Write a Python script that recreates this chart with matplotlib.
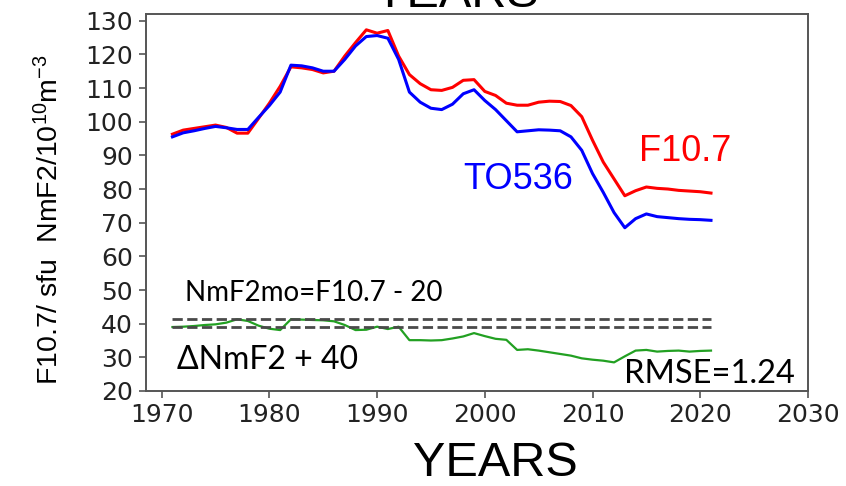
import matplotlib
matplotlib.use("Agg")
import matplotlib.pyplot as plt
import numpy as np

plt.rcParams["mathtext.fontset"] = "custom"
plt.rcParams["mathtext.rm"] = "Liberation Sans"
plt.rcParams["mathtext.it"] = "Liberation Sans:italic"

# yearly values, 1971-2021
years = np.arange(1971, 2022)

f107 = [96.3, 97.5, 98.0, 98.5, 99.0, 98.3, 96.6, 96.6, 101.0, 105.5,
        110.5, 116.3, 116.0, 115.5, 114.5, 115.0, 119.5, 123.5, 127.3, 126.3,
        127.1, 119.5, 114.0, 111.3, 109.5, 109.3, 110.2, 112.3, 112.5, 109.0,
        107.8, 105.5, 104.9, 104.9, 105.8, 106.1, 106.0, 104.8, 101.5, 94.5,
        88.0, 83.0, 78.0, 79.5, 80.6, 80.2, 80.0, 79.6, 79.4, 79.2,
        78.8]

to536 = [95.5, 96.7, 97.3, 98.0, 98.6, 98.2, 97.7, 97.7, 101.3, 104.8,
         108.8, 116.8, 116.6, 116.0, 115.0, 115.0, 118.5, 122.5, 125.3, 125.6,
         124.8, 118.5, 108.8, 105.8, 104.0, 103.6, 105.2, 108.3, 109.5, 106.3,
         103.6, 100.3, 97.0, 97.3, 97.6, 97.5, 97.3, 95.5, 91.5, 84.6,
         79.0, 73.0, 68.5, 71.2, 72.6, 71.8, 71.5, 71.2, 71.0, 70.9,
         70.7]

dnmf2 = [39.0, 39.1, 39.3, 39.6, 39.8, 40.3, 41.3, 40.8, 39.4, 38.5,
         38.1, 41.3, 41.2, 41.1, 41.0, 40.7, 39.6, 38.1, 38.2, 39.1,
         38.4, 39.1, 35.1, 35.1, 35.0, 35.1, 35.6, 36.2, 37.2, 36.3,
         35.5, 35.2, 32.2, 32.4, 32.0, 31.5, 31.0, 30.5, 29.7, 29.3,
         29.0, 28.5, 30.3, 32.0, 32.2, 31.7, 31.9, 32.0, 31.7, 31.9,
         32.0]

dash_levels = [41.5, 39.0]

xticks = [1970, 1980, 1990, 2000, 2010, 2020, 2030]
yticks = list(range(20, 131, 10))

fig = plt.figure(figsize=(8.46, 4.86), dpi=100)
ax = fig.add_axes([0.172, 0.1955, 0.783, 0.7757])

ax.plot(years, f107, color="red", lw=2.2)
ax.plot(years, to536, color="blue", lw=2.2)
ax.plot(years, dnmf2, color="#22a022", lw=1.6)
for lev in dash_levels:
    ax.plot([years[0], years[-1]], [lev, lev], ls="--", color="#4a4a4a", lw=2)

ax.set_xlim(1968.5, 2030)
ax.set_ylim(20, 132)
ax.set_xticks(xticks)
ax.set_yticks(yticks)
ax.tick_params(labelsize=18, length=5, width=1.2, color="#555555", pad=4,
               labelcolor="#222222")
for s in ax.spines.values():
    s.set_color("#555555")
    s.set_linewidth(1.4)

# y label placed by hand, a bit below the axes centre
fig.text(0.059, 0.548, "F10.7/ sfu  NmF2/10$^{10}$m$^{-3}$", fontsize=20.5,
         family="Liberation Sans", rotation=90, ha="center", va="center")

ax.text(2018.6, 91.2, "F10.7", color="red", fontsize=26,
        family="Liberation Sans", ha="center", va="center")
ax.text(2003.1, 82.9, "TO536", color="blue", fontsize=26,
        family="Liberation Sans", ha="center", va="center")
ax.text(1972.2, 49.1, "NmF2mo=F10.7 - 20", fontsize=20, family="Lato",
        ha="left", va="center")
ax.text(1971.4, 29.3, "ΔNmF2 + 40", fontsize=23, family="Lato",
        ha="left", va="center")
ax.text(2012.9, 25.0, "RMSE=1.24", fontsize=23.5, family="Lato",
        ha="left", va="center")

fig.text(0.586, 0.0, "YEARS", fontsize=35, family="Liberation Sans",
         ha="center", va="bottom")
fig.text(0.539, 0.986, "YEARS", fontsize=35, family="Liberation Sans",
         ha="center", va="baseline")

fig.savefig("out.png", dpi=100)
